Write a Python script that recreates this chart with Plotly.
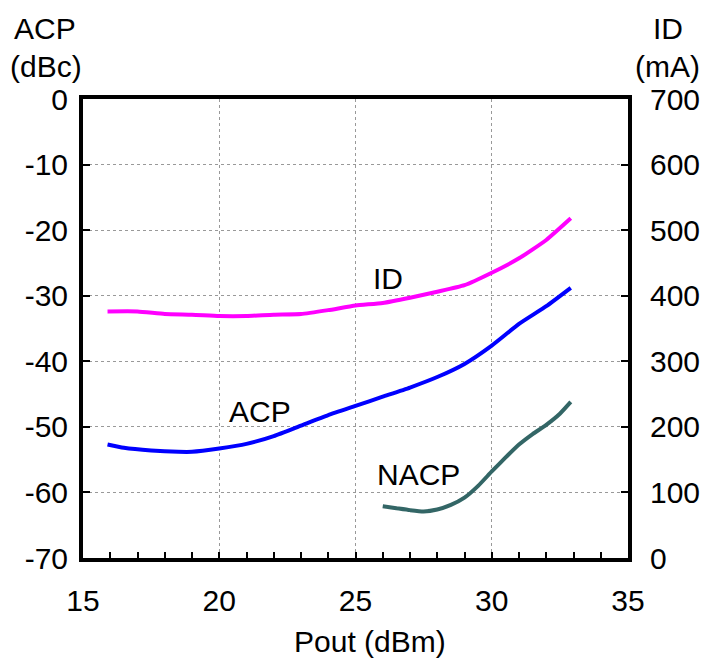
import plotly.graph_objects as go

FONT = "Liberation Sans, Arial, sans-serif"

# ---- data ----
id_pout = [15.9, 17, 18, 19, 20, 21, 22, 23, 24, 25, 26, 27, 28, 29, 30, 31, 32, 32.9]
id_ma = [376, 376, 372, 371, 369, 369, 371, 372, 378, 385, 389, 397, 406, 416, 435, 457, 485, 518]

acp_pout = [15.9, 16.5, 17.5, 18.5, 19, 20, 21, 22, 23, 24, 25, 26, 27, 28, 29, 30, 31, 32, 32.9]
acp_dbc = [-52.7, -53.2, -53.6, -53.8, -53.8, -53.3, -52.6, -51.4, -49.8, -48.2, -46.8,
           -45.4, -44.0, -42.4, -40.4, -37.6, -34.3, -31.6, -28.8]

nacp_pout = [26, 26.5, 27, 27.5, 28, 28.5, 29, 29.5, 30, 30.5, 31, 31.5, 32, 32.5, 32.9]
nacp_dbc = [-62.1, -62.4, -62.7, -62.9, -62.6, -61.9, -60.8, -59.0, -56.8, -54.7,
            -52.7, -51.1, -49.7, -48.0, -46.2]

x_ticks = [15, 20, 25, 30, 35]
acp_ticks = [0, -10, -20, -30, -40, -50, -60, -70]
acp_labels = ["0", "-10", "-20", "-30", "-40", "-50", "-60", "-70"]
id_ticks = [0, 100, 200, 300, 400, 500, 600, 700]

fig = go.Figure()
fig.add_trace(go.Scatter(x=acp_pout, y=acp_dbc, mode="lines", name="ACP",
                         line=dict(color="#0000FF", width=4, shape="spline", smoothing=0.5)))
fig.add_trace(go.Scatter(x=nacp_pout, y=nacp_dbc, mode="lines", name="NACP",
                         line=dict(color="#336666", width=4, shape="spline", smoothing=0.5)))
fig.add_trace(go.Scatter(x=id_pout, y=id_ma, mode="lines", name="ID", yaxis="y2",
                         line=dict(color="#FF00FF", width=4, shape="spline", smoothing=0.5)))

grid = dict(showgrid=True, gridcolor="#999999", gridwidth=1, griddash="dot")

L, R, T, B = 83, 79, 99, 100
fig.update_layout(
    width=707, height=658,
    margin=dict(l=L, r=R, t=T, b=B),
    plot_bgcolor="white", paper_bgcolor="white",
    showlegend=False,
    font=dict(family=FONT, size=30, color="black"),
    xaxis=dict(range=[15, 35], tickvals=x_ticks, ticks="inside", ticklen=6,
               tickwidth=1.5, tickcolor="black", automargin=False,
               showline=True, linewidth=4, linecolor="black", mirror=True,
               minor=dict(dtick=1, ticks="inside", ticklen=6, tickcolor="black", showgrid=False),
               zeroline=False, ticklabelstandoff=13, **grid),
    yaxis=dict(range=[-70, 0], tickvals=acp_ticks, ticktext=acp_labels, ticks="inside", ticklen=7,
               tickwidth=1.5, tickcolor="black", automargin=False,
               showline=True, linewidth=4, linecolor="black", mirror=False,
               zeroline=False, ticklabelstandoff=5, **grid),
    yaxis2=dict(range=[0, 700], tickvals=id_ticks, overlaying="y", side="right",
                ticks="inside", ticklen=7, tickwidth=1.5, tickcolor="black", automargin=False,
                showline=True, linewidth=4, linecolor="black",
                showgrid=False, zeroline=False, ticklabelstandoff=12),
)

W, H = 707, 658
pw, ph = W - L - R, H - T - B
annots = [
    dict(text="ACP", px=45, py=29),
    dict(text="(dBc)", px=45.5, py=67),
    dict(text="ID", px=667.5, py=29),
    dict(text="(mA)", px=667.5, py=67),
    dict(text="Pout (dBm)", px=369.5, py=641),
]
for a in annots:
    fig.add_annotation(text=a["text"], x=(a["px"] - L) / pw, y=(H - B - a["py"]) / ph,
                       xref="paper", yref="paper", showarrow=False,
                       xanchor="center", yanchor="middle",
                       font=dict(family=FONT, size=30, color="black"))

inline = [("ID", 26.2, -27.3), ("ACP", 21.5, -47.6), ("NACP", 27.3, -57.3)]
for t, x, y in inline:
    fig.add_annotation(text=t, x=x, y=y, xref="x", yref="y", showarrow=False,
                       xanchor="center", yanchor="middle",
                       font=dict(family=FONT, size=30, color="black"))

fig.write_html("out.html", config={"displayModeBar": False},
               post_script="document.body.style.margin='0';document.body.style.padding='0';")
